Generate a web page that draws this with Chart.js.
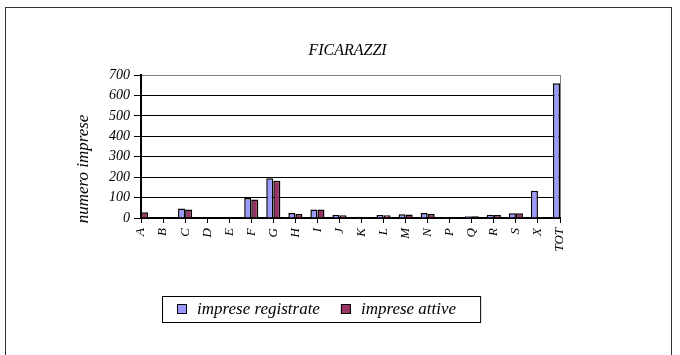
<!DOCTYPE html>
<html lang="it">
<head>
<meta charset="utf-8">
<title>FICARAZZI</title>
<script src="https://cdn.jsdelivr.net/npm/chart.js@4/dist/chart.umd.min.js"></script>
<style>
    html, body { margin: 0; padding: 0; background: #fff; }
    #box { width: 680px; height: 355px; }
</style>
</head>
<body>
<div id="box"><canvas id="graficoImprese" width="680" height="355"></canvas></div>
<script>
// categorie (sezioni di attività)
const categorie = ['A', 'B', 'C', 'D', 'E', 'F', 'G', 'H', 'I', 'J', 'K', 'L', 'M', 'N', 'P', 'Q', 'R', 'S', 'X', 'TOT'];

// numero di imprese per categoria
const impreseRegistrate = [30, 0, 47, 3, 0, 98, 195, 25, 42, 15, 6, 15, 18, 25, 5, 9, 16, 23, 133, 660];
const impreseAttive = [28, 0, 41, 2, 0, 90, 182, 20, 41, 13, 5, 14, 17, 20, 4, 8, 15, 23, 3, 490];

// testi
const titolo = 'FICARAZZI';
const titoloAsseY = 'numero imprese';
const nomiSerie = ['imprese registrate', 'imprese attive'];

// colori delle serie
const coloriSerie = ['#9999FF', '#993366'];

const fontSerif = "'Liberation Serif', 'Times New Roman', serif";

// cornice esterna, titolo, titolo asse e legenda disegnati a mano
const decorazioni = {
    id: 'decorazioni',
    afterDraw(chart) {
        const ctx = chart.ctx;
        const area = chart.chartArea;
        ctx.save();

        // cornice
        ctx.strokeStyle = '#333';
        ctx.lineWidth = 1;
        ctx.strokeRect(5.5, 7.5, 666, 400);

        ctx.fillStyle = '#000';

        // titolo
        ctx.font = 'italic 16px ' + fontSerif;
        ctx.textAlign = 'center';
        ctx.textBaseline = 'alphabetic';
        ctx.fillText(titolo, (area.left + area.right) / 2 - 3, 55);

        // titolo asse y
        ctx.save();
        ctx.translate(84, 169);
        ctx.rotate(-Math.PI / 2);
        ctx.font = 'italic 17px ' + fontSerif;
        ctx.textBaseline = 'middle';
        ctx.fillText(titoloAsseY, 0, 0);
        ctx.restore();

        // legenda
        ctx.font = 'italic 17px ' + fontSerif;
        ctx.textAlign = 'left';
        const boxLeft = 162;
        const boxTop = 296;
        const boxH = 26;
        let x = boxLeft + 15;
        chart.data.datasets.forEach((ds, i) => {
            if (i > 0) x += 21;
            ctx.fillStyle = ds.backgroundColor;
            ctx.fillRect(x, 304, 10, 10);
            ctx.strokeStyle = '#000';
            ctx.strokeRect(x + 0.5, 304.5, 9, 9);
            x += 20;
            ctx.fillStyle = '#000';
            ctx.fillText(ds.label, x, 314);
            x += ctx.measureText(ds.label).width;
        });
        x += 24;
        ctx.strokeStyle = '#000';
        ctx.strokeRect(boxLeft + 0.5, boxTop + 0.5, x - boxLeft, boxH);

        ctx.restore();
    }
};

// crea il grafico
const grafico = new Chart(document.getElementById('graficoImprese'), {
    type: 'bar',
    data: {
        labels: categorie,
        datasets: [
            {
                label: nomiSerie[0],
                data: impreseRegistrate,
                backgroundColor: coloriSerie[0]
            },
            {
                label: nomiSerie[1],
                data: impreseAttive,
                backgroundColor: coloriSerie[1]
            }
        ]
    },
    options: {
        responsive: false,
        animation: false,
        devicePixelRatio: 1,
        layout: {
            padding: { left: 60, top: 75, right: 120, bottom: 0 }
        },
        datasets: {
            bar: {
                borderColor: '#000',
                borderWidth: 1.5,
                categoryPercentage: 0.64,
                barPercentage: 1.0,
                clip: 0
            }
        },
        plugins: {
            legend: { display: false },
            title: { display: false },
            tooltip: { enabled: false }
        },
        scales: {
            x: {
                offset: false,
                grid: {
                    offset: false,
                    color: ctx => ctx.index === categorie.length - 1 ? '#808080' : 'rgba(0,0,0,0)',
                    tickColor: '#000',
                    tickLength: 5,
                    lineWidth: 1
                },
                border: { color: '#000', width: 2 },
                ticks: {
                    autoSkip: false,
                    minRotation: 90,
                    maxRotation: 90,
                    padding: 5,
                    color: '#000',
                    font: { family: fontSerif, size: 13, style: 'italic' }
                },
                afterFit: scale => { scale.height = 137; }
            },
            y: {
                min: 0,
                max: 700,
                grid: {
                    color: ctx => ctx.tick && ctx.tick.value === 700 ? '#808080' : '#000',
                    tickColor: '#000',
                    tickLength: 7,
                    lineWidth: 1
                },
                border: { color: '#000', width: 2 },
                ticks: {
                    stepSize: 100,
                    padding: 4,
                    color: '#000',
                    font: { family: fontSerif, size: 14, style: 'italic' }
                },
                afterFit: scale => { scale.width = 81; }
            }
        }
    },
    plugins: [decorazioni]
});
</script>
</body>
</html>
